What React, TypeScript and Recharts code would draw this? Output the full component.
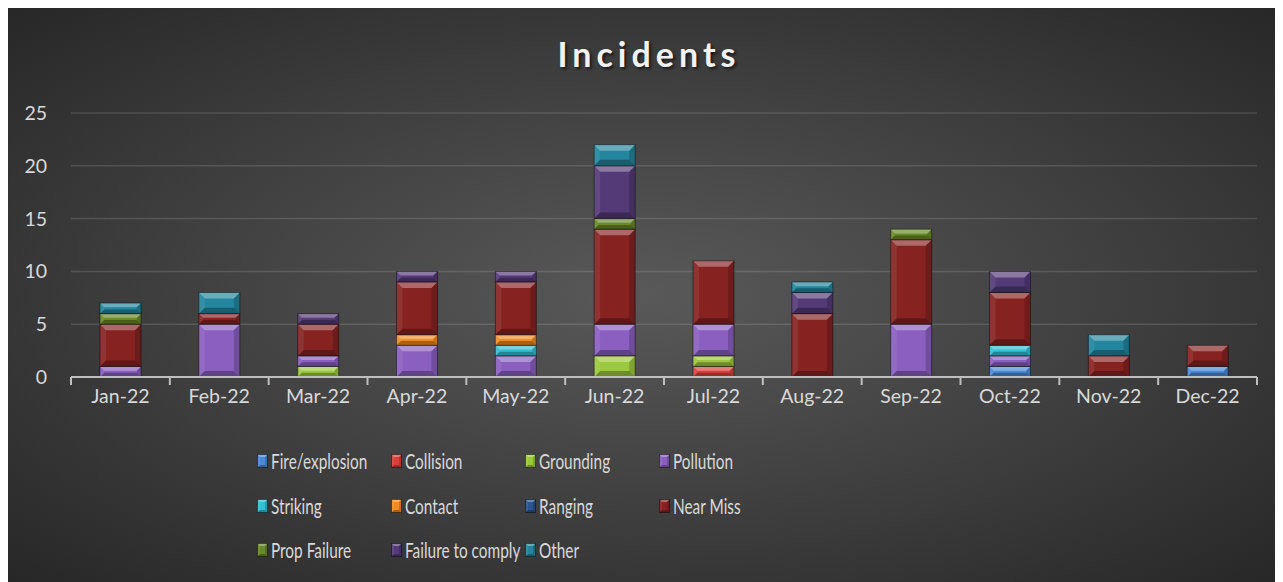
import React from "react";
import { BarChart, Bar, XAxis, YAxis, CartesianGrid } from "recharts";

const months = ["Jan-22", "Feb-22", "Mar-22", "Apr-22", "May-22", "Jun-22", "Jul-22", "Aug-22", "Sep-22", "Oct-22", "Nov-22", "Dec-22"];

const fireExplosion = [0, 0, 0, 0, 0, 0, 0, 0, 0, 1, 0, 1];
const collision = [0, 0, 0, 0, 0, 0, 1, 0, 0, 0, 0, 0];
const grounding = [0, 0, 1, 0, 0, 2, 1, 0, 0, 0, 0, 0];
const pollution = [1, 5, 1, 3, 2, 3, 3, 0, 5, 1, 0, 0];
const striking = [0, 0, 0, 0, 1, 0, 0, 0, 0, 1, 0, 0];
const contact = [0, 0, 0, 1, 1, 0, 0, 0, 0, 0, 0, 0];
const ranging = [0, 0, 0, 0, 0, 0, 0, 0, 0, 0, 0, 0];
const nearMiss = [4, 1, 3, 5, 5, 9, 6, 6, 8, 5, 2, 2];
const propFailure = [1, 0, 0, 0, 0, 1, 0, 0, 1, 0, 0, 0];
const failureToComply = [0, 0, 1, 1, 1, 5, 0, 2, 0, 2, 0, 0];
const other = [1, 2, 0, 0, 0, 2, 0, 1, 0, 0, 2, 0];

const yTicks = [0, 5, 10, 15, 20, 25];

const series = [
  { key: "fire", name: "Fire/explosion", values: fireExplosion, color: "#4a8ad6" },
  { key: "collision", name: "Collision", values: collision, color: "#d9403c" },
  { key: "grounding", name: "Grounding", values: grounding, color: "#9cc83e" },
  { key: "pollution", name: "Pollution", values: pollution, color: "#8a5fc0" },
  { key: "striking", name: "Striking", values: striking, color: "#33bfd6" },
  { key: "contact", name: "Contact", values: contact, color: "#f08c22" },
  { key: "ranging", name: "Ranging", values: ranging, color: "#2a5590" },
  { key: "nearMiss", name: "Near Miss", values: nearMiss, color: "#862321" },
  { key: "propFailure", name: "Prop Failure", values: propFailure, color: "#6a8a26" },
  { key: "failure", name: "Failure to comply", values: failureToComply, color: "#553a78" },
  { key: "other", name: "Other", values: other, color: "#23869e" },
];

const data = months.map((m, i) => {
  const row: Record<string, string | number> = { month: m };
  series.forEach((s) => (row[s.key] = s.values[i]));
  return row;
});

const FONT = "Lato, 'Noto Sans', sans-serif";
const W = 1276;
const H = 575;
const PLOT_LEFT = 64;
const PLOT_RIGHT = 1250;
const BAND = (PLOT_RIGHT - PLOT_LEFT) / months.length;

// bevelled block, like the office "cool slant" bar effect
const BevelRect = (props: any) => {
  const { x, y, width, height, fill } = props;
  if (!height || height <= 0.5) return null;
  const b = Math.min(6, height / 2.5, width / 4);
  return (
    <g>
      <rect x={x} y={y} width={width} height={height} fill={fill} />
      <polygon points={`${x},${y} ${x + width},${y} ${x + width - b},${y + b} ${x + b},${y + b}`} fill="#fff" fillOpacity={0.32} />
      <polygon points={`${x},${y + height} ${x + width},${y + height} ${x + width - b},${y + height - b} ${x + b},${y + height - b}`} fill="#000" fillOpacity={0.3} />
      <polygon points={`${x},${y} ${x + b},${y + b} ${x + b},${y + height - b} ${x},${y + height}`} fill="#fff" fillOpacity={0.08} />
      <polygon points={`${x + width},${y} ${x + width - b},${y + b} ${x + width - b},${y + height - b} ${x + width},${y + height}`} fill="#000" fillOpacity={0.18} />
      <rect x={x} y={y} width={width} height={height} fill="none" stroke="#000" strokeOpacity={0.45} strokeWidth={1} />
    </g>
  );
};

const XTick = (props: any) => {
  const { x, y, payload, index } = props;
  const left = x - BAND / 2;
  return (
    <g>
      <line x1={left} y1={y - 8} x2={left} y2={y} stroke="#bfbfbf" strokeWidth={2} />
      {index === months.length - 1 && (
        <line x1={x + BAND / 2} y1={y - 8} x2={x + BAND / 2} y2={y} stroke="#bfbfbf" strokeWidth={2} />
      )}
      <text x={x} y={y + 18} textAnchor="middle" fill="#d9d9d9" fontSize={19.5} fontFamily={FONT}>
        {payload.value}
      </text>
    </g>
  );
};

const ChartLegend = () => (
  <div
    style={{
      position: "absolute",
      left: 250,
      top: 432,
      display: "grid",
      gridTemplateColumns: "134px 134px 134px 134px",
    }}
  >
    {series.map((s) => (
      <div key={s.key} style={{ display: "flex", alignItems: "center", height: 44.5, fontFamily: FONT, fontSize: 20.5, color: "#d9d9d9", whiteSpace: "nowrap" }}>
        <svg width={11} height={14} style={{ marginRight: 3, flex: "none" }}>
          <BevelRect x={0.5} y={0.5} width={10} height={13} fill={s.color} />
        </svg>
        <span style={{ display: "inline-block", transform: "scaleX(0.75)", transformOrigin: "left center" }}>{s.name}</span>
      </div>
    ))}
  </div>
);

export default function App() {
  return (
    <div
      style={{
        position: "relative",
        left: -1,
        top: -1,
        width: W,
        height: H,
        background: "radial-gradient(ellipse farthest-corner at 50% 50%, #595959 0%, #3e3e3e 55%, #272727 100%)",
      }}
    >
      <div
        style={{
          position: "absolute",
          left: 4,
          width: W,
          top: 26,
          textAlign: "center",
          fontFamily: FONT,
          fontWeight: 700,
          fontSize: 34,
          letterSpacing: 5,
          color: "#f2f2f2",
          textShadow: "2px 2px 3px rgba(0,0,0,0.6)",
        }}
      >
        Incidents
      </div>
      <BarChart
        width={W}
        height={H}
        data={data}
        barSize={41}
        margin={{ top: 106, right: W - PLOT_RIGHT, left: 0, bottom: 165 }}
      >
        <CartesianGrid vertical={false} stroke="#ffffff" strokeOpacity={0.13} strokeWidth={1.5} />
        <XAxis
          dataKey="month"
          axisLine={{ stroke: "#bfbfbf", strokeWidth: 2 }}
          tickLine={false}
          tick={<XTick />}
          height={40}
          interval={0}
        />
        <YAxis
          width={PLOT_LEFT}
          domain={[0, 25]}
          ticks={yTicks}
          axisLine={false}
          tickLine={false}
          tick={{ fill: "#d9d9d9", fontSize: 19.5, fontFamily: FONT }}
          tickMargin={18}
        />
        {series.map((s) => (
          <Bar
            key={s.key}
            dataKey={s.key}
            name={s.name}
            stackId="a"
            fill={s.color}
            shape={<BevelRect />}
            isAnimationActive={false}
          />
        ))}
      </BarChart>
      <ChartLegend />
    </div>
  );
}
